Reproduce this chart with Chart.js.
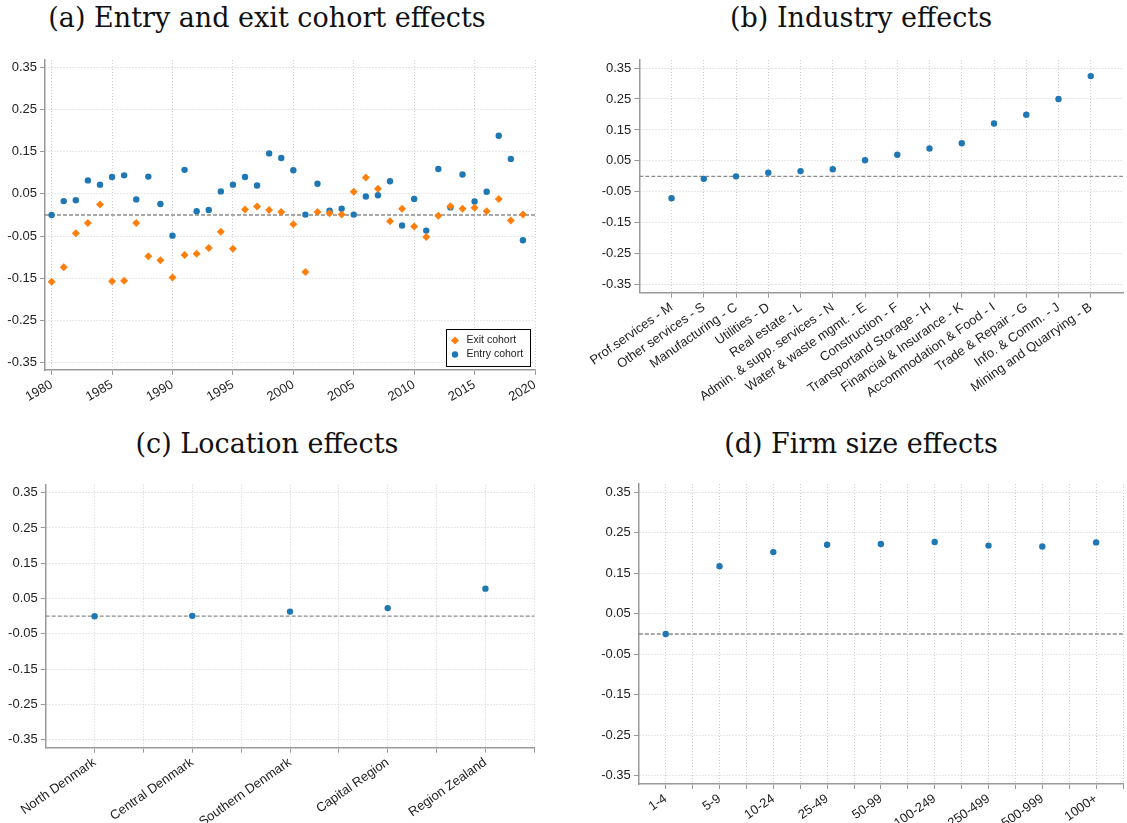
<!DOCTYPE html>
<html>
<head>
<meta charset="utf-8">
<script src="https://cdn.jsdelivr.net/npm/chart.js@4.4.1/dist/chart.umd.min.js"></script>
<style>
  body { margin: 0; background: #fff; }
  #page { position: relative; width: 1127px; height: 823px; overflow: hidden; }
  canvas { position: absolute; }
  .ttl {
    position: absolute; width: 520px; text-align: center; white-space: nowrap;
    font-family: "DejaVu Serif", serif; font-size: 27px; line-height: 27px; color: #111;
  }
</style>
</head>
<body>
<div id="page">
  <div class="ttl" style="left:7px; top:4px">(a) Entry and exit cohort effects</div>
  <div class="ttl" style="left:601px; top:4px">(b) Industry effects</div>
  <div class="ttl" style="left:7px; top:430px">(c) Location effects</div>
  <div class="ttl" style="left:601px; top:430px">(d) Firm size effects</div>

  <canvas id="cohortChart" width="563" height="365" style="left:0; top:50px"></canvas>
  <canvas id="industryChart" width="564" height="360" style="left:563px; top:50px"></canvas>
  <canvas id="locationChart" width="563" height="348" style="left:0; top:475px"></canvas>
  <canvas id="sizeChart" width="564" height="348" style="left:563px; top:475px"></canvas>
</div>
<script>
// ---- data ----
const years = [1980, 1981, 1982, 1983, 1984, 1985, 1986, 1987, 1988, 1989,
               1990, 1991, 1992, 1993, 1994, 1995, 1996, 1997, 1998, 1999,
               2000, 2001, 2002, 2003, 2004, 2005, 2006, 2007, 2008, 2009,
               2010, 2011, 2012, 2013, 2014, 2015, 2016, 2017, 2018, 2019];
const entryCohort = [0.000, 0.033, 0.035, 0.082, 0.072, 0.090, 0.094, 0.037, 0.091, 0.026,
                     -0.049, 0.107, 0.009, 0.012, 0.056, 0.072, 0.090, 0.070, 0.146, 0.135,
                     0.106, 0.001, 0.074, 0.010, 0.015, 0.001, 0.044, 0.047, 0.080, -0.025,
                     0.038, -0.037, 0.109, 0.018, 0.096, 0.032, 0.055, 0.188, 0.133, -0.060];
const exitCohort = [-0.158, -0.124, -0.043, -0.019, 0.025, -0.157, -0.156, -0.019, -0.098, -0.107,
                    -0.148, -0.095, -0.092, -0.078, -0.040, -0.080, 0.013, 0.020, 0.012, 0.007,
                    -0.022, -0.135, 0.007, 0.004, 0.001, 0.055, 0.089, 0.062, -0.015, 0.015,
                    -0.027, -0.052, -0.002, 0.021, 0.015, 0.017, 0.009, 0.038, -0.013, 0.001];
const yearTicks = [1980, 1985, 1990, 1995, 2000, 2005, 2010, 2015, 2020];

const industries = ["Prof.services - M", "Other services - S", "Manufacturing - C", "Utilities - D",
                    "Real estate - L", "Admin. & supp. services - N", "Water & waste mgmt. - E",
                    "Construction - F", "Transportand Storage - H", "Financial & Insurance - K",
                    "Accommodation & Food - I", "Trade & Repair - G", "Info. & Comm. - J",
                    "Mining and Quarrying - B"];
const industryEffects = [-0.071, -0.008, 0.000, 0.012, 0.017, 0.023, 0.052, 0.070,
                         0.090, 0.107, 0.171, 0.199, 0.250, 0.324];

const regions = ["North Denmark", "Central Denmark", "Southern Denmark", "Capital Region", "Region Zealand"];
const regionEffects = [0.000, 0.001, 0.013, 0.023, 0.078];

const sizeClasses = ["1-4", "5-9", "10-24", "25-49", "50-99", "100-249", "250-499", "500-999", "1000+"];
const sizeEffects = [0.000, 0.167, 0.202, 0.220, 0.222, 0.227, 0.218, 0.216, 0.226];

const yTicks = [-0.35, -0.25, -0.15, -0.05, 0.05, 0.15, 0.25, 0.35];

const blue = "#1f77b4";
const orange = "#ff7f0e";
const tickFont = { family: "Liberation Sans", size: 13 };

// dashed reference line at zero
const zeroLine = {
  id: "zeroLine",
  beforeDatasetsDraw(chart) {
    const { ctx, chartArea } = chart;
    const y = chart.scales.y.getPixelForValue(0);
    ctx.save();
    ctx.strokeStyle = "#8c8c8c";
    ctx.lineWidth = 1.3;
    ctx.setLineDash([4, 2]);
    ctx.beginPath();
    ctx.moveTo(chartArea.left, y);
    ctx.lineTo(chartArea.right, y);
    ctx.stroke();
    ctx.restore();
  }
};

function marker(ctx, style, r, x, y) {
  ctx.beginPath();
  if (style === "rectRot") {
    ctx.moveTo(x - r, y); ctx.lineTo(x, y - r); ctx.lineTo(x + r, y); ctx.lineTo(x, y + r);
    ctx.closePath();
  } else {
    ctx.arc(x, y, r, 0, Math.PI * 2);
  }
  ctx.fill();
}

// boxed legend in the lower right corner of panel (a)
const cohortLegend = {
  id: "cohortLegend",
  afterDatasetsDraw(chart) {
    const { ctx, chartArea } = chart;
    const w = 84, h = 37;
    const x0 = chartArea.right - 5 - w;
    const y0 = chartArea.bottom - 4 - h;
    ctx.save();
    ctx.fillStyle = "#fff";
    ctx.fillRect(x0, y0, w, h);
    ctx.strokeStyle = "#000";
    ctx.lineWidth = 1;
    ctx.strokeRect(Math.round(x0) + 0.5, Math.round(y0) + 0.5, w, h);
    ctx.font = '10.5px "Liberation Sans"';
    ctx.textBaseline = "middle";
    chart.data.datasets.forEach((ds, i) => {
      const y = y0 + 11.5 + i * 14;
      ctx.fillStyle = ds.backgroundColor;
      marker(ctx, ds.pointStyle, ds.pointRadius, x0 + 9, y);
      ctx.fillStyle = "#222";
      ctx.fillText(ds.label, x0 + 20.5, y);
    });
    ctx.restore();
  }
};

function makeChart(id, datasets, o) {
  return new Chart(document.getElementById(id), {
    type: "scatter",
    data: { datasets: datasets },
    plugins: [zeroLine].concat(o.extra || []),
    options: {
      responsive: false,
      animation: false,
      devicePixelRatio: 1,
      layout: { padding: { top: o.padTop, right: o.padRight, left: 0, bottom: 0 } },
      plugins: { legend: { display: false }, tooltip: { enabled: false } },
      scales: {
        x: {
          type: "linear",
          min: o.xMin,
          max: o.xMax,
          afterBuildTicks: (s) => { s.ticks = o.xTicks.map((v) => ({ value: v })); },
          afterFit: (s) => { s.height = o.xHeight; s.paddingLeft = 0; s.paddingRight = 0; },
          ticks: {
            autoSkip: false,
            minRotation: o.rotation,
            maxRotation: o.rotation,
            padding: 2,
            font: tickFont,
            color: "#222",
            callback: o.xLabel
          },
          grid: { color: "#d0d0d0", tickColor: "#999", tickLength: 5, tickBorderDash: [] },
          border: { color: "#999", width: 1.5, dash: [1, 2] }
        },
        y: {
          type: "linear",
          min: o.yMin,
          max: o.yMax,
          afterBuildTicks: (s) => { s.ticks = yTicks.map((v) => ({ value: v })); },
          afterFit: (s) => { s.width = o.yWidth; s.paddingTop = 0; s.paddingBottom = 0; },
          ticks: { padding: 3, font: tickFont, color: "#222", callback: (v) => v.toFixed(2) },
          grid: { color: "#d0d0d0", tickColor: "#999", tickLength: 5, tickBorderDash: [] },
          border: { color: "#999", width: 1.5, dash: [1, 2] }
        }
      }
    }
  });
}

function dots(label, xs, ys, color, style, radius) {
  return {
    label: label,
    data: xs.map((x, i) => ({ x: x, y: ys[i] })),
    backgroundColor: color,
    pointBackgroundColor: color,
    pointBorderWidth: 0,
    pointStyle: style,
    pointRadius: radius
  };
}

function halfSteps(n) {
  const t = [];
  for (let i = 1; i <= n; i++) { t.push(i); t.push(i + 0.5); }
  return t;
}

const catIndex = (arr) => arr.map((_, i) => i + 1);

// (a) entry and exit cohorts
makeChart("cohortChart", [
  dots("Exit cohort", years, exitCohort, orange, "rectRot", 4),
  dots("Entry cohort", years, entryCohort, blue, "circle", 3.2)
], {
  xMin: 1979.45, xMax: 2020, xTicks: yearTicks, xLabel: (v) => String(v), rotation: 30,
  yMin: -0.3675, yMax: 0.3675, yWidth: 45, xHeight: 45, padTop: 10, padRight: 28,
  extra: [cohortLegend]
});

// (b) industry
makeChart("industryChart", [
  dots("Industry", catIndex(industries), industryEffects, blue, "circle", 3.2)
], {
  xMin: 0, xMax: 15, xTicks: catIndex(industries), xLabel: (v) => industries[v - 1] || "", rotation: 35,
  yMin: -0.376, yMax: 0.376, yWidth: 76.3, xHeight: 117.3, padTop: 10, padRight: 0
});

// (c) location
makeChart("locationChart", [
  dots("Region", catIndex(regions), regionEffects, blue, "circle", 3.2)
], {
  xMin: 0.5, xMax: 5.5, xTicks: halfSteps(regions.length),
  xLabel: (v) => (Number.isInteger(v) ? regions[v - 1] : ""), rotation: 35,
  yMin: -0.3725, yMax: 0.3725, yWidth: 45.7, xHeight: 75.3, padTop: 9.7, padRight: 28.7
});

// (d) firm size
makeChart("sizeChart", [
  dots("Size", catIndex(sizeClasses), sizeEffects, blue, "circle", 3.2)
], {
  xMin: 0.5, xMax: 9.5, xTicks: halfSteps(sizeClasses.length),
  xLabel: (v) => (Number.isInteger(v) ? sizeClasses[v - 1] : ""), rotation: 35,
  yMin: -0.37, yMax: 0.37, yWidth: 75.8, xHeight: 39, padTop: 9, padRight: 0
});
</script>
</body>
</html>
